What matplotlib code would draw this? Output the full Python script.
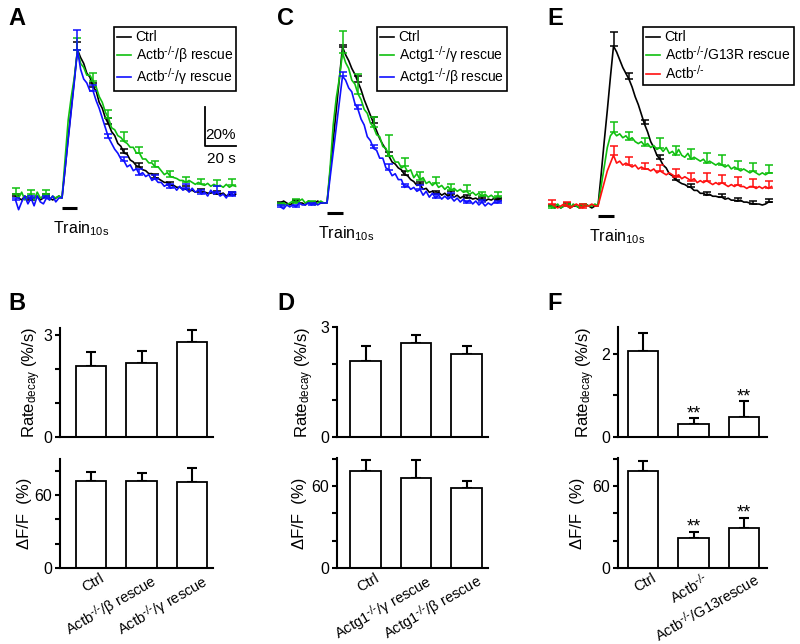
import numpy as np
import matplotlib
matplotlib.use('Agg')
import matplotlib.pyplot as plt
import matplotlib.transforms as mtransforms

plt.rcParams['font.family'] = ['Liberation Sans', 'DejaVu Sans']
plt.rcParams['mathtext.default'] = 'regular'
plt.rcParams['font.size'] = 10

# ---------------- trace data (dF/F in %, time in s, train starts at t=0) ----------------
t = np.arange(-30, 113, 2)
err_t = [-30, -20, -10, 10, 20, 30, 40, 50, 60, 70, 80, 90, 100, 110]

# panel A
a_ctrl = ([1, 0, -1, 1, 0, -1, 0, 1, -1, 0, 1, 0, -1, 0, 1] +
          [0, 15, 31, 46, 61, 76] +
          [72, 69, 64, 62, 57, 55, 49, 46, 41, 38,
           34, 32, 28, 26.5, 23, 22.5, 19.5, 18.5, 16.5, 16,
           14.5, 14, 12.5, 12.5, 10.5, 10, 9, 8, 8, 6.5,
           6.5, 5.5, 5.5, 4.5, 4.5, 3.5, 4, 3, 3.5, 3,
           3, 2.5, 2.5, 3, 2, 2, 2.5, 1, 2, 1.5, 2])
a_beta = ([2, 0, 3, -1, 1, 2, -1, 3, 0, 1, 2, -1, 1, 0, 1] +
          [0, 20, 40, 52, 62, 76] +
          [69, 67, 63, 63, 60, 57, 52, 49, 44, 41,
           36, 35, 32, 31, 29, 28, 26, 26, 23, 23,
           20, 20, 18, 18, 16, 16, 14, 12, 13, 11,
           10.5, 10, 9, 9, 8, 9, 8, 7, 8, 7,
           6.5, 7.5, 6, 7, 6, 6.5, 5.5, 7, 5.5, 6.5, 6])
a_gamma = ([-1, -6, -2, 1, -3, 0, -4, 1, -2, -3, 0, -1, 1, -2, 0] +
           [0, 15, 30, 45, 60, 76] +
           [66, 61, 59, 55, 55, 50, 46, 41, 36, 31,
            28, 25, 23, 20, 19, 16, 17, 14, 15, 12,
            13, 11, 12, 9, 10, 8, 8, 6, 7, 5,
            6, 4, 6, 4, 5, 3, 5, 3, 4, 2,
            3, 1, 4, 2, 3, 1, 2, 0, 3, 1, 3])
a_ctrl_sem = [1, 1, 1, 4, 2, 3, 2, 2, 2, 1.5, 1.5, 1.5, 1.5, 1.5]
a_beta_sem = [3, 2, 2, 6, 4, 4, 5, 3, 3, 3, 3, 3, 3, 3]
a_gamma_sem = [1, 1, 1, 10, 3, 2, 2, 3, 2, 2, 2, 2, 3, 2]

# panel C
c_ctrl = ([0, 1, 0, -1, 0, 1, 0, 0, -1, 1, 0, 0, 1, 0, 0] +
          [0, 16, 32, 48, 64, 80] +
          [76, 73, 69, 66, 62, 58, 53, 49, 45, 41,
           37, 33, 30, 27.5, 24, 21, 20, 18, 17, 14.5,
           14, 12, 11, 9, 9.5, 7, 7.5, 5.5, 6, 4.5,
           5.5, 4, 5, 3.5, 4.5, 3, 4, 2.5, 3.5, 2.5,
           3, 2, 2.5, 1.5, 2, 1, 2, 1.5, 2.5, 1.5, 2.5])
c_gamma = ([-1, 0, -1, 0, 1, 0, 1, 2, 0, 1, 0, -1, 0, 1, 0] +
           [0, 18, 40, 54, 64, 77] +
           [72, 69, 63, 61, 56, 53, 48, 46, 41, 39,
            35, 34, 29, 28, 24, 24, 21, 21, 18, 19,
            16, 17, 13, 15, 12, 13, 10, 11, 9, 10.5,
            8, 9, 7, 8.5, 6.5, 7.5, 6, 7, 5.5, 6,
            4.5, 5.5, 4, 5, 3.5, 4.5, 3, 4, 2.5, 3.5, 3])
c_beta = ([-2, -3, -1, -2, -1, -2, 0, -1, -1, 0, -1, 0, -1, 0, 0] +
          [0, 13, 26, 39, 52, 65] +
          [63, 59, 57, 51, 48, 43, 40, 34, 32, 28,
           27, 23, 23, 18, 17, 14, 15, 12, 12, 8,
           9, 7, 8, 6, 7, 4, 6, 3, 5, 2.5,
           4, 2, 3.5, 2, 3, 1, 2.5, 0.5, 2, 0,
           1.5, -0.5, 1, -1, 0.5, -1.5, 0, -1, 0.5, 0, 1])
c_ctrl_sem = [0.5, 0.5, 0.5, 1, 3, 3, 2, 2, 1.5, 1.5, 1.5, 1.5, 1, 1]
c_gamma_sem = [1, 2, 1, 11, 10, 5, 11, 4, 4, 3, 3, 3, 2, 2]
c_beta_sem = [1, 1, 1, 2, 2, 2, 3, 2, 2, 2, 2, 1, 1, 1]

# panel E
e_ctrl = ([0, -1, 0, -1, 0, 1, -1, 0, 0, -1, 0, 1, 0, -1, 0] +
          [0, 16, 33, 49, 66, 82] +
          [79, 75, 71, 68, 65, 61, 56, 52, 47, 42,
           38, 33, 30, 26, 24, 21, 19.5, 16.5, 15.5, 13.5,
           12.5, 11.5, 11, 10, 9.5, 8, 8, 6.5, 6.5, 5.5,
           6, 5, 5, 4.5, 4.5, 3.5, 4, 3, 3, 2.5,
           3, 2, 2, 1.5, 1, 1, 1, 0.5, 1, 2, 2])
e_g13r = ([-1, 0, 1, -1, 0, 0, -1, 1, 0, -1, 0, 1, 0, 0, 1] +
          [0, 10, 20, 30, 36, 38] +
          [36, 37, 35, 36, 34, 35, 33, 32, 33, 31,
           32, 30, 31, 29, 30, 28, 30, 27, 28, 26,
           29, 26, 25, 27, 24, 25, 24, 23, 24, 22,
           23, 22, 21, 22, 21, 20, 21, 19, 20, 19,
           18, 19, 18, 17, 18, 17, 16, 17, 16, 17, 17])
e_ko = ([1, 0, -1, 0, 1, 0, -1, 0, 1, 0, -1, 0, 0, 1, 0] +
        [0, 6, 12, 18, 22, 26] +
        [22, 23, 21, 22, 21, 20, 21, 19, 20, 19,
         19, 18, 19, 17, 18, 17, 16, 17, 16, 15,
         16, 14, 15, 14, 13, 14, 12, 13, 12, 13,
         12, 11, 12, 11, 12, 11, 10, 11, 10, 11,
         10, 10, 9, 10, 10, 9, 10, 9, 10, 9, 10])
e_ctrl_sem = [0.5, 0.5, 0.5, 7, 3, 2, 2, 2, 2, 1.5, 1.5, 1.5, 1.5, 1.5]
e_g13r_sem = [1, 1, 1, 5, 4, 4, 5, 5, 5, 5, 5, 4, 4, 4]
e_ko_sem = [2, 2, 2, 5, 4, 3, 3, 4, 4, 4, 4, 4, 4, 4]

# ---------------- bar data ----------------
KO = r'$^{\text{-/-}}$'
names_b = ['Ctrl', 'Actb' + KO + '/β rescue', 'Actb' + KO + '/γ rescue']
rate_b = [2.08, 2.18, 2.79]
rate_b_err = [0.43, 0.35, 0.34]
amp_b = [71.2, 71.5, 71.0]
amp_b_err = [7.7, 6.9, 11.7]

names_d = ['Ctrl', 'Actg1' + KO + '/γ rescue', 'Actg1' + KO + '/β rescue']
rate_d = [2.07, 2.57, 2.26]
rate_d_err = [0.41, 0.21, 0.22]
amp_d = [71.0, 65.9, 58.3]
amp_d_err = [7.7, 13.1, 5.6]

names_f = ['Ctrl', 'Actb' + KO, 'Actb' + KO + '/G13rescue']
rate_f = [2.07, 0.32, 0.47]
rate_f_err = [0.43, 0.13, 0.39]
amp_f = [71.0, 21.6, 29.4]
amp_f_err = [7.5, 5.1, 7.5]
stars_f = ['', '**', '**']

TRAIN_LEN = 10
SCALE_T, SCALE_P = 20, 20

GREEN, BLUE, RED = '#10c010', '#1010ff', '#ff1010'

W, H = 800, 644
PX_S, PX_P = 1.55, 1.95  # pixels per second, pixels per % dF/F

fig = plt.figure(figsize=(8, 6.44), dpi=100)


def px_axes(left, top, right, bottom):
    return fig.add_axes([left / W, 1 - bottom / H, (right - left) / W, (bottom - top) / H])


def trace_panel(x0, y0, series, sems, labels, colors, leg_xy):
    left, right, top, bottom = x0 - 55, x0 + 200, 15, 250
    ax = px_axes(left, top, right, bottom)
    ax.set_xlim((left - x0) / PX_S, (right - x0) / PX_S)
    ax.set_ylim((y0 - bottom) / PX_P, (y0 - top) / PX_P)
    ax.axis('off')
    idx = np.searchsorted(t, err_t)
    lines = []
    for y, s, lab, c in zip(series, sems, labels, colors):
        y = np.asarray(y, dtype=float)
        ln, = ax.plot(t, y, color=c, lw=1.2, label=lab)
        ax.errorbar(t[idx], y[idx], yerr=[np.zeros(len(s)), s], fmt='none',
                    ecolor=c, elinewidth=1.1, capsize=3, capthick=1.1)
        lines.append(ln)
    ax.plot([0, TRAIN_LEN], [-5, -5], color='k', lw=2.2, solid_capstyle='butt')
    ax.text(-6, -18, r'Train$_{10s}$', fontsize=11.5, va='baseline', ha='left')
    leg = ax.legend(handles=lines, loc='upper left',
                    bbox_to_anchor=(leg_xy[0] / W, 1 - leg_xy[1] / H),
                    bbox_transform=fig.transFigure, fancybox=False,
                    edgecolor='black', framealpha=1, borderpad=0.25,
                    handlelength=1.0, handletextpad=0.3, labelspacing=0.0,
                    borderaxespad=0, fontsize=10)
    leg.get_frame().set_linewidth(1.2)
    return ax


def bar_panel(ax_x, c0, right, top, bottom, vals, errs, ymax, ticks, shown,
              ylabel, lab_off, names=None, stars=None):
    sp = 50.5
    ax = px_axes(ax_x, top, right, bottom)
    x = np.arange(len(vals))
    ax.bar(x, vals, width=0.6, color='white', edgecolor='black', linewidth=1.3, zorder=2)
    ax.errorbar(x, vals, yerr=[np.zeros(len(vals)), errs], fmt='none', ecolor='black',
                elinewidth=1.5, capsize=3.5, capthick=1.5, zorder=1)
    ax.set_xlim((ax_x - c0) / sp, (right - c0) / sp)
    ax.set_ylim(0, ymax)
    for side in ['top', 'right']:
        ax.spines[side].set_visible(False)
    for side in ['left', 'bottom']:
        ax.spines[side].set_linewidth(1.5)
    ax.set_yticks(ticks)
    ax.set_yticklabels([str(v) if v in shown else '' for v in ticks], fontsize=11.5)
    ax.tick_params(axis='y', direction='out', length=3.5, width=1.5, pad=2)
    if names is None:
        ax.set_xticks([])
    else:
        ax.set_xticks(x)
        ax.set_xticklabels(names, rotation=30, ha='right', rotation_mode='anchor', fontsize=10.5)
        ax.tick_params(axis='x', length=0, pad=2)
        off = mtransforms.ScaledTranslation(0.09, 0, fig.dpi_scale_trans)
        for lab in ax.get_xticklabels():
            lab.set_transform(lab.get_transform() + off)
    ax.set_ylabel(ylabel, fontsize=12)
    ax.yaxis.set_label_coords(-lab_off / (right - ax_x), 0.5)
    if stars is not None:
        for xi, v, e, s in zip(x, vals, errs, stars):
            if s:
                ax.text(xi, v + e, s, ha='center', va='baseline', fontsize=13)
    return ax


rate_lab = r'Rate$_{decay}$ (%/s)'
amp_lab = 'ΔF/F  (%)'

# ---- A ----
axA = trace_panel(62, 198, [a_ctrl, a_beta, a_gamma], [a_ctrl_sem, a_beta_sem, a_gamma_sem],
                  ['Ctrl', 'Actb' + KO + '/β rescue', 'Actb' + KO + '/γ rescue'],
                  ['black', GREEN, BLUE], (114, 27))
sx = (205 - 62) / PX_S
sy = (198 - 146) / PX_P
axA.plot([sx, sx, sx + SCALE_T], [sy + SCALE_P, sy, sy], color='k', lw=1.3)
axA.text(sx + SCALE_T, sy + 3.5, '%d%%' % SCALE_P, ha='right', va='baseline', fontsize=11)
axA.text(sx + SCALE_T, sy - 8.5, '%d s' % SCALE_T, ha='right', va='baseline', fontsize=11)

# ---- C ----
trace_panel(327, 203, [c_ctrl, c_gamma, c_beta], [c_ctrl_sem, c_gamma_sem, c_beta_sem],
            ['Ctrl', 'Actg1' + KO + '/γ rescue', 'Actg1' + KO + '/β rescue'],
            ['black', GREEN, BLUE], (377, 27))

# ---- E ----
trace_panel(598, 206, [e_ctrl, e_g13r, e_ko], [e_ctrl_sem, e_g13r_sem, e_ko_sem],
            ['Ctrl', 'Actb' + KO + '/G13R rescue', 'Actb' + KO],
            ['black', GREEN, RED], (643, 27))

# ---- B ----
bar_panel(60, 91, 213, 328, 437, rate_b, rate_b_err, 3.2, [0, 1, 2, 3], [0, 3], rate_lab, 17)
bar_panel(60, 91, 213, 459, 568, amp_b, amp_b_err, 89.7, [0, 20, 40, 60, 80], [0, 60],
          amp_lab, 28, names=names_b)

# ---- D ----
bar_panel(337, 365.5, 488, 327, 437, rate_d, rate_d_err, 3.0, [0, 1, 2, 3], [0, 3], rate_lab, 21)
bar_panel(337, 365.5, 488, 458, 568, amp_d, amp_d_err, 80.5, [0, 20, 40, 60, 80], [0, 60],
          amp_lab, 30, names=names_d)

# ---- F ----
bar_panel(618, 643, 767, 327, 437, rate_f, rate_f_err, 2.65, [0, 1, 2], [0, 2], rate_lab, 21,
          stars=stars_f)
bar_panel(618, 643, 767, 458, 568, amp_f, amp_f_err, 80.5, [0, 20, 40, 60, 80], [0, 60],
          amp_lab, 33, names=names_f, stars=stars_f)

# panel letters
for letter, x, y in [('A', 8, 25), ('C', 277, 25), ('E', 547, 25),
                     ('B', 8, 310), ('D', 277, 310), ('F', 547, 310)]:
    fig.text(x / W, 1 - y / H, letter, fontsize=17, fontweight='bold', ha='left', va='baseline')

fig.savefig('out.png', dpi=100)
